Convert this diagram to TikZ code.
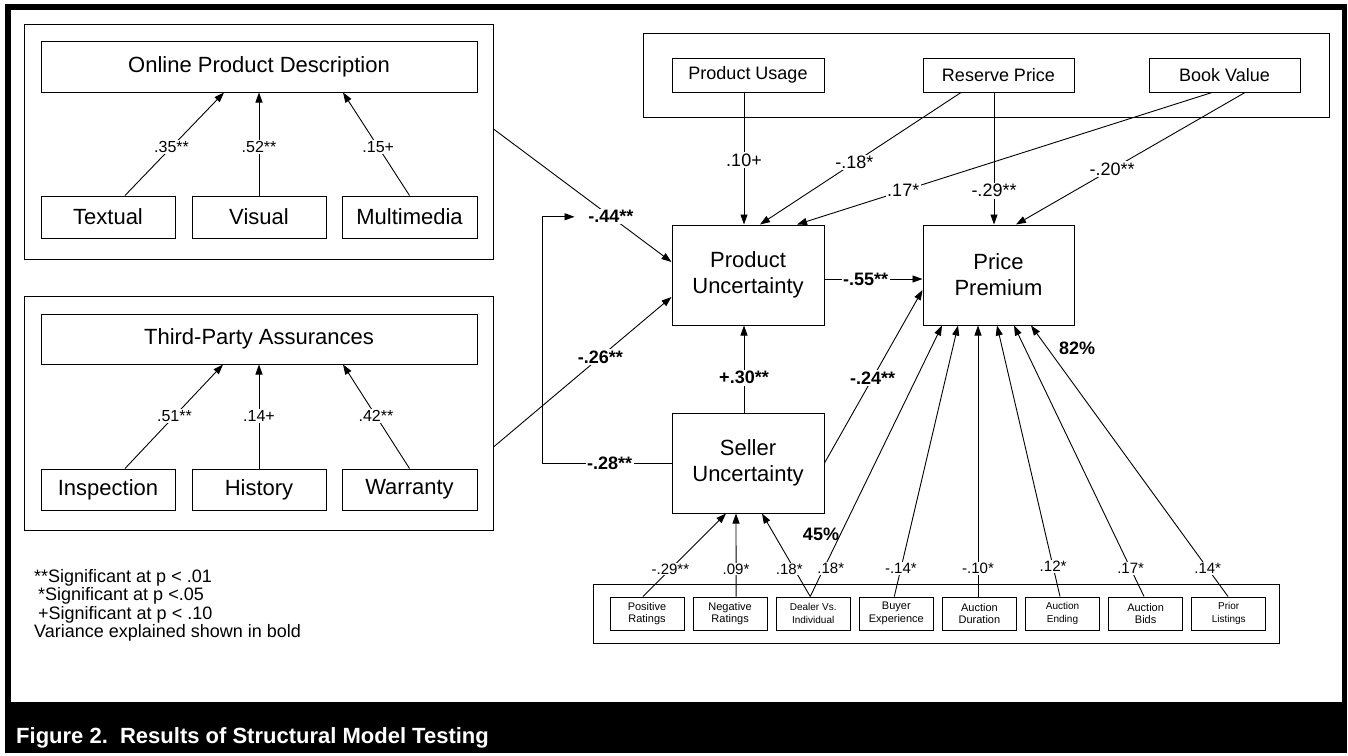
\documentclass[tikz,border=0pt]{standalone}
\usepackage{fontspec}
\setmainfont{Liberation Sans}
\usetikzlibrary{arrows.meta}
\newcommand\fszBox{\fontsize{22}{26}\selectfont}
\newcommand\fszTop{\fontsize{18}{21}\selectfont}
\newcommand\fszLeft{\fontsize{16}{19}\selectfont}
\newcommand\fszBot{\fontsize{15}{17}\selectfont}
\newcommand\fszSmall{\fontsize{11}{12.5}\selectfont}
\newcommand\fszTiny{\fontsize{10}{12.5}\selectfont}
\begin{document}
\begin{tikzpicture}[x=1pt,y=-1pt,
  box/.style={draw, line width=1pt, fill=white, inner sep=0pt, align=center, font=\fszBox},
  grp/.style={draw, line width=1pt, inner sep=0pt},
  topbox/.style={box, minimum width=151pt, minimum height=34pt, font=\fszTop},
  ind/.style={box, minimum width=134pt, minimum height=42pt},
  cbox/.style={box, minimum width=152pt, minimum height=100pt},
  sbox/.style={box, minimum width=74pt, minimum height=33pt, font=\fszSmall},
  arr/.style={line width=0.9pt, -{Triangle[length=10pt,width=7pt]}},
  lnk/.style={line width=0.9pt},
  lbl/.style={fill=white, inner sep=1.5pt, font=\fszLeft},
  tlbl/.style={fill=white, inner sep=1.5pt, font=\fszTop},
  blbl/.style={fill=white, inner sep=1.5pt, font=\fszTop\bfseries},
  slbl/.style={fill=white, inner sep=1pt, font=\fszBot},
]
\useasboundingbox (0,0) rectangle (1348,755);
% frame
\fill[white] (0,0) rectangle (1348,755);
\fill[black] (5,4) rectangle (1347,753);
\fill[white] (11,10) rectangle (1342,702);
\node[anchor=base west, text=white, font=\fszBox\bfseries, inner sep=0pt] (cap) at (16,743) {Figure 2.\ \ Results of Structural Model Testing};

% group boxes
\node[grp, minimum width=469pt, minimum height=235pt] (g1) at (258.5,141.5) {};
\node[grp, minimum width=469pt, minimum height=234pt] (g2) at (258.5,413) {};
\node[grp, minimum width=686pt, minimum height=84pt] (gtop) at (986,75) {};
\node[grp, minimum width=686pt, minimum height=59pt] (gbot) at (936,613.5) {};

% left indicators
\node[box, minimum width=436pt, minimum height=51pt] (opd) at (259,66.5) {Online Product Description};
\node[ind] (tx) at (108,217) {Textual};
\node[ind] (vi) at (259,217) {Visual};
\node[ind, minimum width=135pt] (mm) at (409.5,217) {Multimedia};
\node[box, minimum width=436pt, minimum height=50pt] (tpa) at (259,339) {Third-Party Assurances};
\node[ind, minimum height=41pt] (ins) at (108,489.5) {Inspection};
\node[ind, minimum height=41pt] (his) at (259,489.5) {History};
\node[ind, minimum height=41pt, minimum width=135pt] (war) at (409.5,489.5) {Warranty};

% top controls
\node[topbox, minimum width=152pt] (use) at (748,75) {Product Usage};
\node[topbox] (res) at (998.5,75) {Reserve Price};
\node[topbox] (book) at (1224.5,75) {Book Value};

% core constructs
\node[cbox] (pu) at (748,275) {Product\\Uncertainty};
\node[cbox, minimum width=151pt] (pp) at (998.5,275) {Price\\Premium};
\node[cbox] (su) at (748,463) {Seller\\Uncertainty};

% bottom controls
\node[sbox] (b1) at (647,613.5) {Positive\\Ratings};
\node[sbox] (b2) at (730.1,613.5) {Negative\\Ratings};
\node[sbox, font=\fszTiny] (b3) at (813.2,613.5) {Dealer Vs.\\Individual};
\node[sbox] (b4) at (896.3,613.5) {Buyer\\Experience};
\node[sbox] (b5) at (979.4,613.5) {Auction\\Duration};
\node[sbox, font=\fszTiny] (b6) at (1062.5,613.5) {Auction\\Ending};
\node[sbox] (b7) at (1145.6,613.5) {Auction\\Bids};
\node[sbox, font=\fszTiny] (b8) at (1228.7,613.5) {Prior\\Listings};

% formative indicators
\draw[arr] ([xshift=17pt]tx.north) -- node[lbl,pos=.47]{.35**} ([xshift=-35pt]opd.south);
\draw[arr] (vi.north) -- node[lbl,pos=.47]{.52**} (opd.south);
\draw[arr] (mm.north) -- node[lbl,pos=.47]{.15+} ([xshift=84pt]opd.south);
\draw[arr] ([xshift=17pt]ins.north) -- node[lbl,pos=.505]{.51**} ([xshift=-36pt]tpa.south);
\draw[arr] (his.north) -- node[lbl,pos=.505]{.14+} (tpa.south);
\draw[arr] (war.north) -- node[lbl,pos=.505]{.42**} ([xshift=84pt]tpa.south);

% main paths
\draw[arr] ([yshift=12.5pt]g1.east) -- node[blbl,pos=.66] (l44) {-.44**} ([yshift=13pt]pu.west);
\draw[arr] (su.west) -- node[blbl,pos=.48]{-.28**} ++(-129,0) |- ([xshift=-12pt]l44.west);
\draw[arr] ([yshift=-34pt]g2.east) -- node[blbl,pos=.6]{-.26**} ([yshift=-22pt]pu.west);
\draw[arr] ([yshift=-4pt]pu.east) -- node[blbl,pos=.42]{-.55**} ([yshift=-4pt]pp.west);
\draw[arr] ([xshift=-4pt]su.north) -- node[blbl,pos=.4]{+.30**} ([xshift=-4pt]pu.south);
\draw[arr] (su.east) -- node[blbl,pos=.49]{-.24**} ([yshift=-15pt]pp.west);

% top controls paths
\draw[arr] ([xshift=-4pt]use.south) -- node[tlbl,pos=.51]{.10+} ([xshift=-4pt]pu.north);
\draw[arr] ([xshift=-37.5pt]res.south) -- node[tlbl,pos=.53]{-.18*} ([xshift=12pt]pu.north);
\draw[arr] ([xshift=-12.5pt]book.south) -- node[tlbl,pos=.744]{.17*} ([xshift=49pt]pu.north);
\draw[arr] ([xshift=-4.5pt]res.south) -- node[tlbl,pos=.744]{-.29**} ([xshift=-4.5pt]pp.north);
\draw[arr] ([xshift=20.5pt]book.south) -- node[tlbl,pos=.58]{-.20**} ([xshift=17.5pt]pp.north);

% bottom controls paths
\draw[arr] ([xshift=-4pt]b1.north) -- node[slbl,pos=.33]{-.29**} ([xshift=-22pt]su.south);
\draw[arr] ([xshift=6pt]b2.north) -- node[slbl,pos=.33]{.09*} ([xshift=-12pt]su.south);
\draw[arr] ([xshift=-3pt]b3.north) -- node[slbl,pos=.33,xshift=-5pt]{.18*} ([xshift=14pt]su.south);
\draw[arr] ([xshift=-3pt]b3.north) -- node[slbl,pos=.103,xshift=7pt]{.18*} ([xshift=-56.5pt]pp.south);
\draw[arr] ([xshift=-2pt]b4.north) -- node[slbl,pos=.103]{-.14*} ([xshift=-40.5pt]pp.south);
\draw[arr] ([xshift=-1.4pt]b5.north) -- node[slbl,pos=.103]{-.10*} ([xshift=-20.5pt]pp.south);
\draw[arr] ([xshift=-2.5pt]b6.north) -- node[slbl,pos=.11]{.12*} ([xshift=-1.5pt]pp.south);
\draw[arr] ([xshift=-1.6pt]b7.north) -- node[slbl,pos=.103]{.17*} ([xshift=15.5pt]pp.south);
\draw[arr] ([xshift=-0.7pt]b8.north) -- node[slbl,pos=.103]{.14*} ([xshift=32.5pt]pp.south);

% variance explained
\node[font=\fszTop\bfseries, inner sep=0pt] (v45) at (821,534) {45\%};
\node[font=\fszTop\bfseries, inner sep=0pt] (v82) at (1077,348) {82\%};

% legend
\node[anchor=north west, align=left, inner sep=0pt, font=\fontsize{18}{18.5}\selectfont] (leg) at (34,569)
  {**Significant at p < .01\\
   \hspace*{4pt}*Significant at p <.05\\
   \hspace*{4pt}+Significant at p < .10\\
   Variance explained shown in bold};
\end{tikzpicture}
\end{document}
